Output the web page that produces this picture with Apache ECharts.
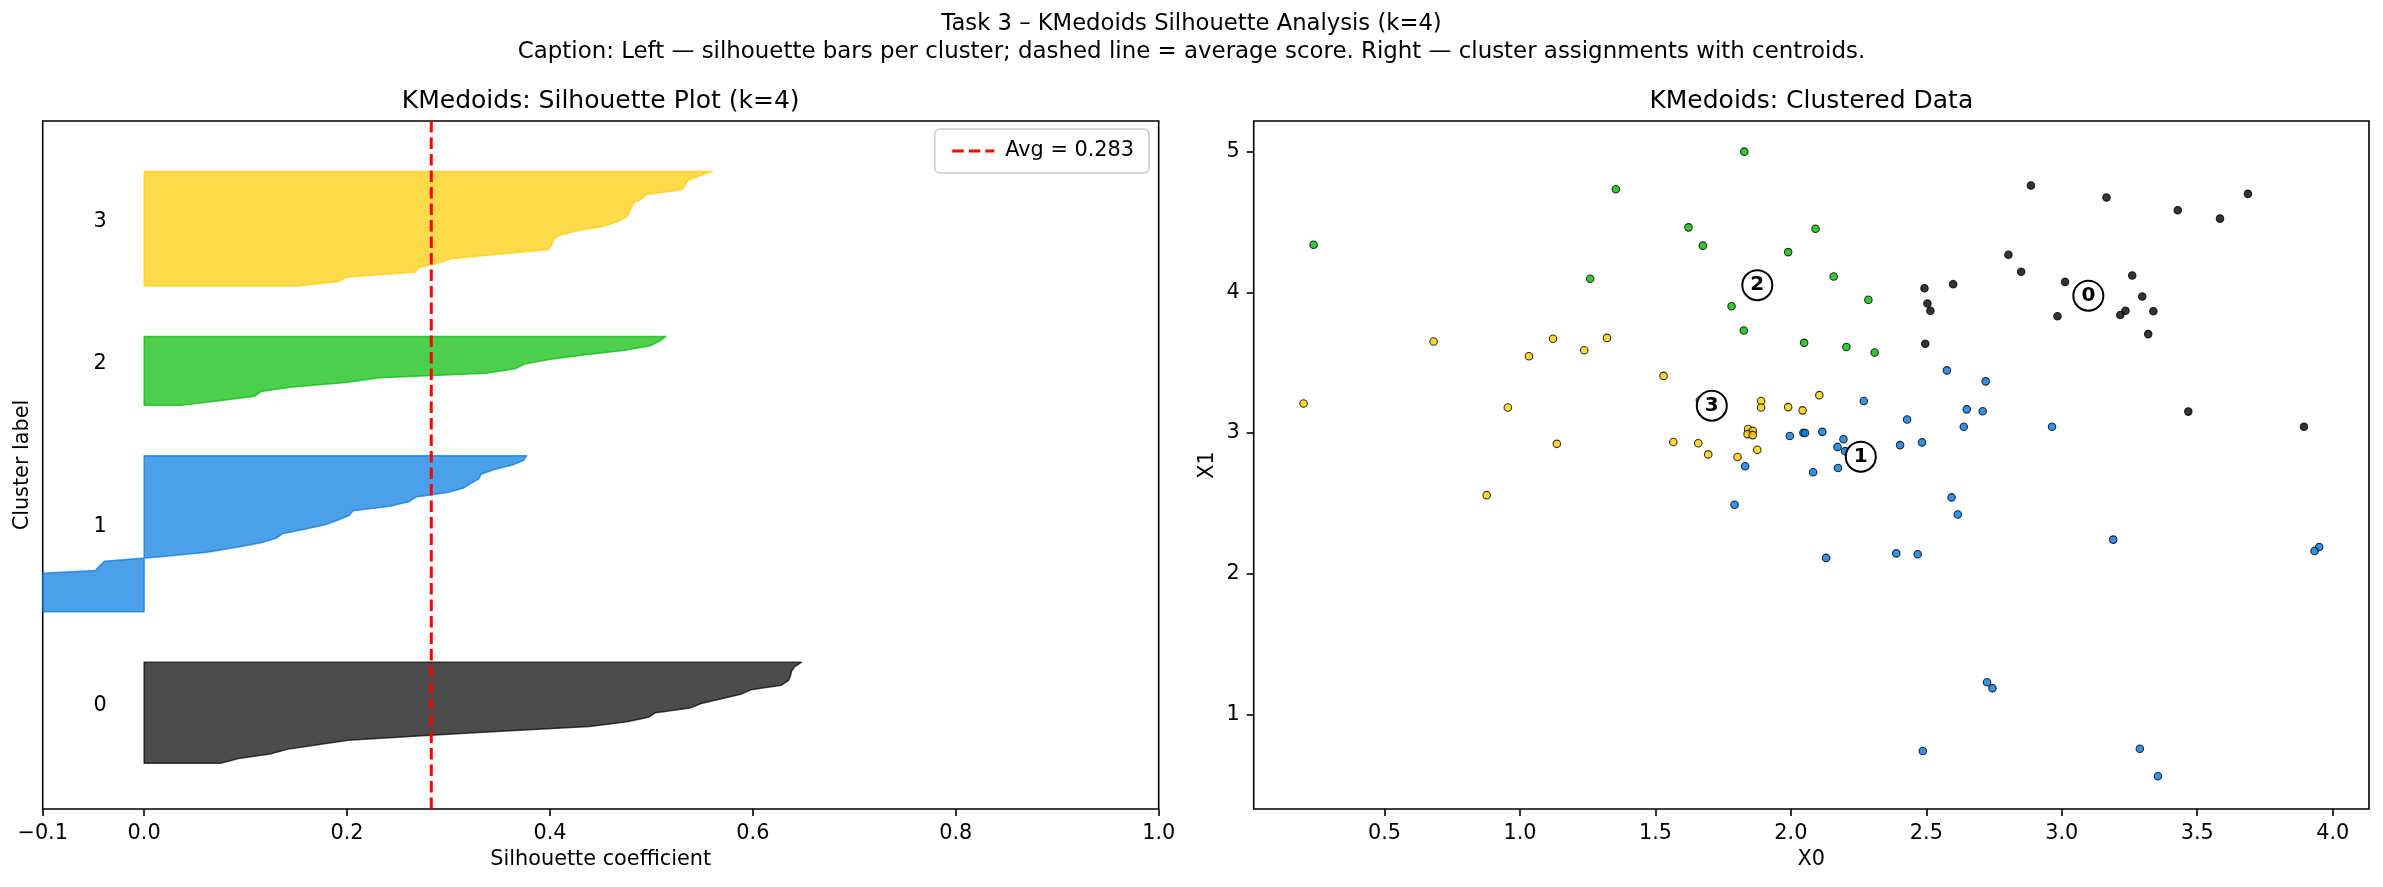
<!DOCTYPE html>
<html><head><meta charset="utf-8">
<script src="https://cdn.jsdelivr.net/npm/echarts@6/dist/echarts.min.js"></script>
<style>html,body{margin:0;padding:0;background:#fff}#c{width:2383px;height:887px}</style>
</head><body><div id="c"></div>
<script>
// ---------- data ----------
const clusterIds = [0, 1, 2, 3];
const clusterColors = ['#000000', '#0077dd', '#00bb00', '#ffcc00'];

// sorted silhouette values per cluster
const sil0 = [0.076, 0.093, 0.124, 0.141, 0.171, 0.201, 0.278, 0.356, 0.439, 0.476, 0.497, 0.504,
  0.538, 0.549, 0.568, 0.588, 0.598, 0.628, 0.635, 0.637, 0.638, 0.641, 0.648];
const sil1 = [-0.40, -0.34, -0.30, -0.26, -0.23, -0.20, -0.18, -0.16, -0.135, -0.048, -0.044, -0.039,
  0.016, 0.062, 0.090, 0.114, 0.130, 0.136, 0.158, 0.179, 0.191, 0.202, 0.206, 0.242, 0.261, 0.268,
  0.299, 0.315, 0.322, 0.330, 0.332, 0.345, 0.363, 0.374, 0.377];
const sil2 = [0.037, 0.074, 0.109, 0.115, 0.146, 0.199, 0.232, 0.337, 0.366, 0.375, 0.399, 0.433,
  0.474, 0.499, 0.508, 0.514];
const sil3 = [0.151, 0.192, 0.200, 0.267, 0.270, 0.289, 0.304, 0.352, 0.399, 0.402, 0.403, 0.408,
  0.426, 0.452, 0.466, 0.475, 0.478, 0.480, 0.482, 0.490, 0.495, 0.530, 0.533, 0.536, 0.547, 0.560];
const avgScore = 0.283;

const silXTicks = [-0.1, 0.0, 0.2, 0.4, 0.6, 0.8, 1.0];
const x0Ticks = [0.5, 1.0, 1.5, 2.0, 2.5, 3.0, 3.5, 4.0];
const x1Ticks = [1, 2, 3, 4, 5];

// clustered data points [X0, X1]
const pts0 = [[2.886,4.759],[3.165,4.674],[3.428,4.583],[3.584,4.524],[3.687,4.700],[2.803,4.267],
  [2.850,4.146],[3.012,4.074],[3.260,4.120],[3.297,3.970],[3.216,3.839],[3.235,3.869],[3.338,3.866],
  [3.319,3.703],[2.984,3.830],[2.599,4.058],[2.493,4.029],[2.504,3.921],[2.515,3.869],[2.496,3.634],
  [3.467,3.152],[3.894,3.044],[3.098,3.976]];
const pts1 = [[2.576,3.445],[2.719,3.367],[2.269,3.227],[2.649,3.168],[2.708,3.155],[2.429,3.096],
  [2.638,3.044],[2.964,3.044],[2.046,3.002],[2.052,3.000],[2.116,3.008],[1.996,2.979],[2.194,2.956],
  [2.172,2.901],[2.200,2.871],[2.403,2.914],[2.484,2.933],[1.831,2.764],[2.082,2.721],[2.174,2.751],
  [2.258,2.832],[1.792,2.490],[2.593,2.542],[2.616,2.421],[3.190,2.242],[3.950,2.190],[3.933,2.161],
  [2.130,2.112],[2.389,2.144],[2.468,2.138],[2.724,1.228],[2.744,1.186],[2.487,0.739],[3.288,0.755],
  [3.355,0.560]];
const pts2 = [[0.238,4.338],[1.354,4.733],[1.259,4.097],[1.622,4.462],[1.675,4.332],[1.828,5.000],
  [1.990,4.286],[2.091,4.452],[2.158,4.113],[1.781,3.901],[1.826,3.729],[2.286,3.947],[2.049,3.641],
  [2.205,3.611],[2.309,3.572],[1.876,4.051]];
const pts3 = [[0.201,3.210],[0.681,3.650],[1.033,3.546],[1.122,3.670],[1.237,3.588],[1.321,3.676],
  [0.955,3.181],[1.136,2.923],[0.877,2.558],[1.530,3.406],[1.566,2.936],[1.658,2.927],[1.695,2.848],
  [1.803,2.829],[1.876,2.881],[1.842,3.028],[1.859,3.015],[1.840,2.992],[1.859,2.985],[1.890,3.227],
  [1.890,3.181],[1.990,3.184],[2.043,3.161],[2.105,3.269],[1.708,3.194],[1.664,3.233]];
const medoids = [[3.098,3.976],[2.258,2.832],[1.876,4.051],[1.708,3.194]];

const suptitle = 'Task 3 – KMedoids Silhouette Analysis (k=4)';
const caption = 'Caption: Left — silhouette bars per cluster; dashed line = average score. Right — cluster assignments with centroids.';
const leftTitle = 'KMedoids: Silhouette Plot (k=4)';
const rightTitle = 'KMedoids: Clustered Data';

// ---------- build ----------
const silValues = [sil0, sil1, sil2, sil3];
const ptsAll = [pts0, pts1, pts2, pts3];
const FONT = 'DejaVu Sans';
const FS = 20.8;
const avgDash = [11.5, 5];

function rgba(hex, a) {
  const n = parseInt(hex.slice(1), 16);
  return `rgba(${(n >> 16) & 255},${(n >> 8) & 255},${n & 255},${a})`;
}

const series = [];
let yLower = 10;
const labelPos = [];
silValues.forEach((vals, i) => {
  const yl = yLower;
  const col = clusterColors[i];
  series.push({
    type: 'custom', xAxisIndex: 0, yAxisIndex: 0, clip: true, silent: true, z: 2,
    data: [[0, yl]],
    renderItem(params, api) {
      const pts = [api.coord([0, yl])];
      vals.forEach((v, j) => pts.push(api.coord([v, yl + j])));
      pts.push(api.coord([0, yl + vals.length - 1]));
      return {type: 'polygon', shape: {points: pts},
        style: {fill: rgba(col, 0.7), stroke: rgba(col, 0.7), lineWidth: 1.5, lineJoin: 'round'}};
    }
  });
  labelPos.push([-0.05, yl + 0.5 * vals.length, clusterIds[i]]);
  yLower = yl + vals.length + 10;
});
const yTop = yLower;

series.push({
  type: 'custom', xAxisIndex: 0, yAxisIndex: 0, silent: true, z: 3,
  data: labelPos,
  renderItem(params, api) {
    const p = api.coord([api.value(0), api.value(1)]);
    return {type: 'text', x: p[0], y: p[1] - 5,
      style: {text: String(api.value(2)), fill: '#000', font: `${FS}px "${FONT}"`, align: 'left', verticalAlign: 'middle'}};
  }
});

series.push({
  type: 'line', name: `Avg = ${avgScore}`, xAxisIndex: 0, yAxisIndex: 0, z: 5,
  data: [[avgScore, 0], [avgScore, yTop]], symbol: 'none', silent: true,
  lineStyle: {color: '#ff0000', width: 3, type: avgDash},
  itemStyle: {color: '#ff0000'}
});

ptsAll.forEach((pts, i) => {
  series.push({
    type: 'scatter', xAxisIndex: 1, yAxisIndex: 1, data: pts, symbolSize: 7.5, z: 2, silent: true,
    itemStyle: {color: clusterColors[i], borderColor: '#000', borderWidth: 1.1, opacity: 0.8}
  });
});
series.push({
  type: 'scatter', xAxisIndex: 1, yAxisIndex: 1, data: medoids, symbolSize: 30, z: 4, silent: true,
  itemStyle: {color: '#fff', borderColor: '#000', borderWidth: 2, opacity: 1},
  label: {show: true, position: 'inside', formatter: p => String(clusterIds[p.dataIndex]),
    color: '#000', fontSize: 20, fontWeight: 'bold', fontFamily: FONT}
});

const tickStyle = {color: '#000', width: 1.6};
const fmtNum = d => v => (v < 0 ? '\u2212' : '') + Math.abs(v).toFixed(d);

const option = {
  backgroundColor: '#fff',
  animation: false,
  textStyle: {fontFamily: FONT},
  grid: [
    {left: 42.7, top: 121, width: 1116, height: 688, show: true, borderColor: '#000', borderWidth: 1.6, backgroundColor: 'transparent'},
    {left: 1253.7, top: 121, width: 1115.3, height: 688, show: true, borderColor: '#000', borderWidth: 1.6, backgroundColor: 'transparent'}
  ],
  xAxis: [
    {type: 'value', gridIndex: 0, min: -0.1, max: 1.0,
      axisLine: {show: false}, splitLine: {show: false},
      axisTick: {show: true, customValues: silXTicks, length: 7, lineStyle: tickStyle},
      axisLabel: {customValues: silXTicks, formatter: fmtNum(1), fontSize: FS, color: '#000', margin: 14, fontFamily: FONT},
      name: 'Silhouette coefficient', nameLocation: 'middle', nameGap: 40,
      nameTextStyle: {fontSize: FS, color: '#000', fontFamily: FONT}},
    {type: 'value', gridIndex: 1, min: 0.017, max: 4.134,
      axisLine: {show: false}, splitLine: {show: false},
      axisTick: {show: true, customValues: x0Ticks, length: 7, lineStyle: tickStyle},
      axisLabel: {customValues: x0Ticks, formatter: fmtNum(1), fontSize: FS, color: '#000', margin: 14, fontFamily: FONT},
      name: 'X0', nameLocation: 'middle', nameGap: 40,
      nameTextStyle: {fontSize: FS, color: '#000', fontFamily: FONT}}
  ],
  yAxis: [
    {type: 'value', gridIndex: 0, min: 0, max: yTop,
      axisLine: {show: false}, splitLine: {show: false}, axisTick: {show: false}, axisLabel: {show: false},
      name: 'Cluster label', nameLocation: 'middle', nameGap: 10,
      nameTextStyle: {fontSize: FS, color: '#000', fontFamily: FONT}},
    {type: 'value', gridIndex: 1, min: 0.327, max: 5.218,
      axisLine: {show: false}, splitLine: {show: false},
      axisTick: {show: true, customValues: x1Ticks, length: 7, lineStyle: tickStyle},
      axisLabel: {customValues: x1Ticks, formatter: v => String(v), fontSize: FS, color: '#000', margin: 14, fontFamily: FONT},
      name: 'X1', nameLocation: 'middle', nameGap: 36,
      nameTextStyle: {fontSize: FS, color: '#000', fontFamily: FONT}}
  ],
  legend: {
    data: [`Avg = ${avgScore}`], right: 1234, top: 129, orient: 'horizontal',
    itemWidth: 42, itemHeight: 14, itemGap: 10,
    itemStyle: {opacity: 0},
    lineStyle: {color: '#ff0000', width: 3, type: avgDash},
    padding: [10, 15, 10, 16], borderColor: '#cccccc', borderWidth: 1.5, borderRadius: 5,
    backgroundColor: 'rgba(255,255,255,0.8)',
    textStyle: {fontSize: FS, color: '#000', fontFamily: FONT, lineHeight: 24, padding: [0, 0, 0, 6]}
  },
  graphic: [
    {type: 'text', x: 1191.5, y: 24, style: {text: suptitle, align: 'center', verticalAlign: 'middle', fill: '#000', font: `22.7px "${FONT}"`}},
    {type: 'text', x: 1191.5, y: 52, style: {text: caption, align: 'center', verticalAlign: 'middle', fill: '#000', font: `22.9px "${FONT}"`}},
    {type: 'text', x: 600.7, y: 101, style: {text: leftTitle, align: 'center', verticalAlign: 'middle', fill: '#000', font: `25px "${FONT}"`}},
    {type: 'text', x: 1811.3, y: 101, style: {text: rightTitle, align: 'center', verticalAlign: 'middle', fill: '#000', font: `25px "${FONT}"`}}
  ],
  series
};

const chart = echarts.init(document.getElementById('c'), null, {renderer: 'canvas', width: 2383, height: 887});
chart.setOption(option);
</script>
</body></html>
